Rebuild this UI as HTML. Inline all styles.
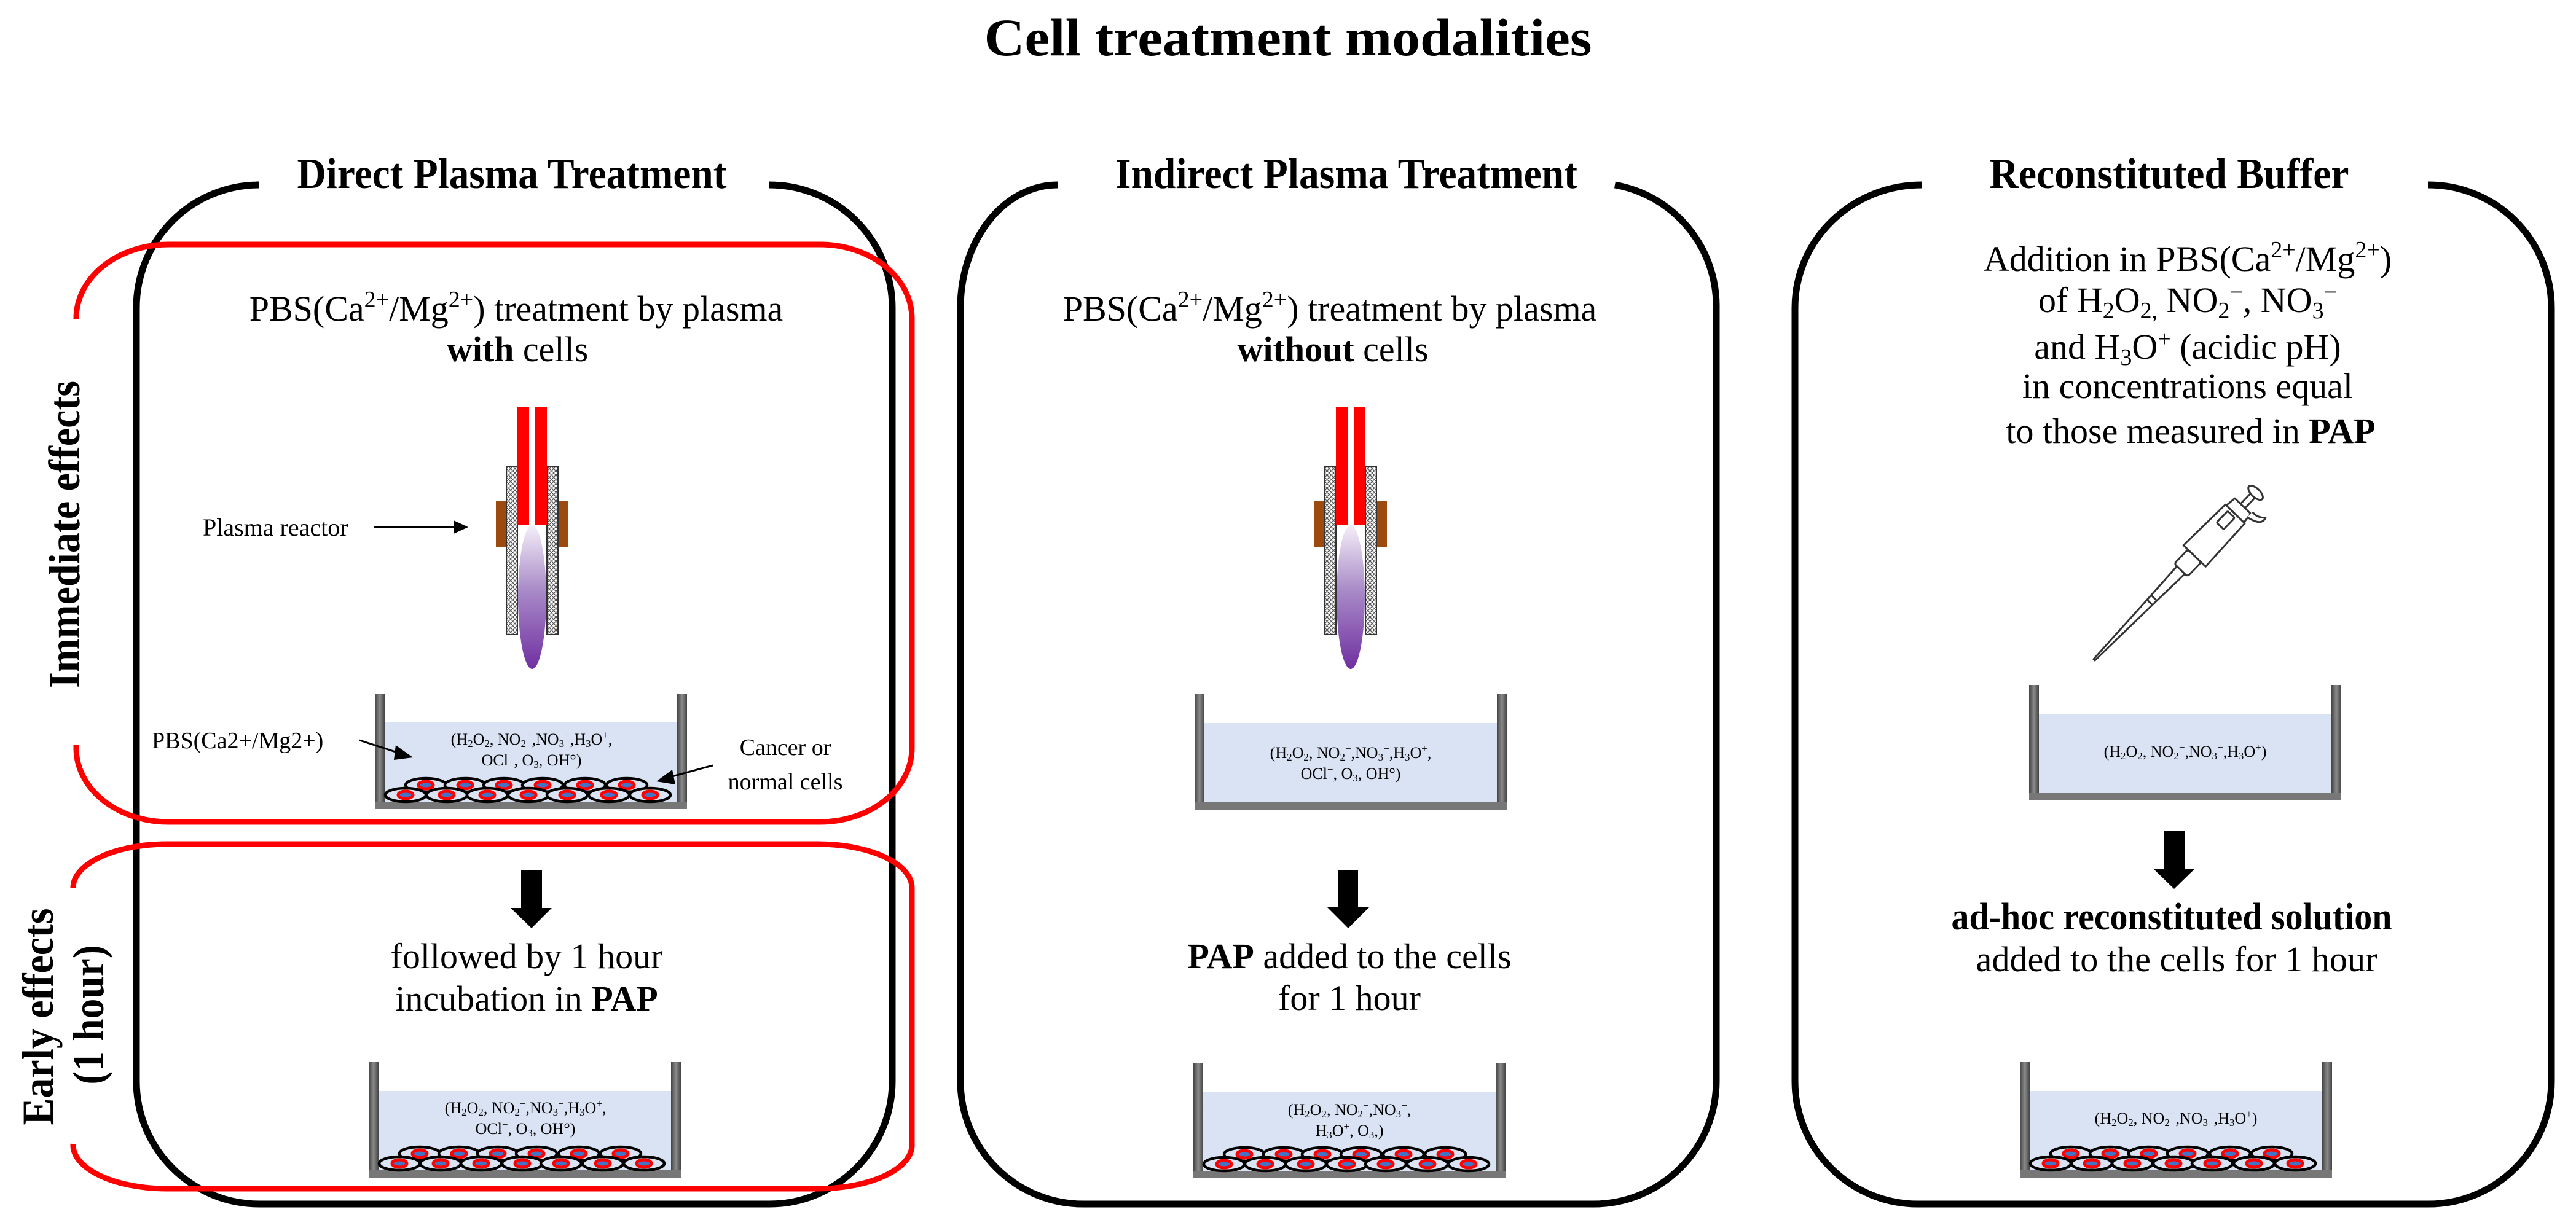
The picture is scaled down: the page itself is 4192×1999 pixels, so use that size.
<!DOCTYPE html>
<html><head><meta charset="utf-8">
<style>
html,body{margin:0;padding:0;background:#fff;}
svg{display:block;font-family:"Liberation Serif","Times New Roman",serif;}
text{font-family:"Liberation Serif","Times New Roman",serif;fill:#000;}
</style></head>
<body>
<svg width="4192" height="1999" viewBox="0 0 4192 1999" xmlns="http://www.w3.org/2000/svg" font-family="Liberation Serif, serif">
<defs>
  <pattern id="hatch" width="7" height="7" patternUnits="userSpaceOnUse">
    <rect width="7" height="7" fill="#fff"/>
    <path d="M0,0L7,7M7,0L0,7" stroke="#555" stroke-width="1.2"/>
  </pattern>
  <linearGradient id="plasma" x1="0" y1="0" x2="0" y2="1">
    <stop offset="0" stop-color="#f4eef8"/>
    <stop offset="0.45" stop-color="#a98bc8"/>
    <stop offset="1" stop-color="#7030a0"/>
  </linearGradient>
  <linearGradient id="wall" x1="0" y1="0" x2="1" y2="0">
    <stop offset="0" stop-color="#444"/>
    <stop offset="0.5" stop-color="#8a8a8a"/>
    <stop offset="1" stop-color="#444"/>
  </linearGradient>
  <g id="well">
    <rect x="16" y="47" width="476" height="130" fill="#dae3f3"/>
    <rect x="0" y="0" width="16" height="188" fill="url(#wall)"/>
    <rect x="492" y="0" width="16" height="188" fill="url(#wall)"/>
    <rect x="0" y="176" width="508" height="12" fill="#777"/>
  </g>
  <g id="cell">
    <ellipse cx="0" cy="0" rx="33" ry="11" fill="#dae3f3" stroke="#000" stroke-width="4.5"/>
    <ellipse cx="0" cy="0" rx="12" ry="6" fill="#4472c4" stroke="#f00" stroke-width="5"/>
  </g>
  <g id="cells">
    <use href="#cell" x="83" y="149"/><use href="#cell" x="147" y="149"/><use href="#cell" x="210" y="149"/>
    <use href="#cell" x="273" y="149"/><use href="#cell" x="342" y="149"/><use href="#cell" x="410" y="149"/>
    <use href="#cell" x="50" y="165"/><use href="#cell" x="117" y="165"/><use href="#cell" x="183" y="165"/>
    <use href="#cell" x="250" y="165"/><use href="#cell" x="313" y="165"/><use href="#cell" x="381" y="165"/>
    <use href="#cell" x="448" y="165"/>
  </g>
  <g id="reactor">
    <rect x="-59" y="816" width="17" height="74" fill="#9c4a0e"/>
    <rect x="42" y="816" width="17" height="74" fill="#9c4a0e"/>
    <rect x="-42" y="760" width="18" height="273" fill="url(#hatch)" stroke="#333" stroke-width="2"/>
    <rect x="24" y="760" width="18" height="273" fill="url(#hatch)" stroke="#333" stroke-width="2"/>
    <rect x="-24" y="662" width="19" height="193" fill="#f00"/>
    <rect x="5" y="662" width="19" height="193" fill="#f00"/>
    <ellipse cx="0" cy="972" rx="23" ry="117" fill="url(#plasma)"/>
  </g>
</defs>

<text x="2096" y="90" font-size="86" font-weight="bold" text-anchor="middle" textLength="989" lengthAdjust="spacingAndGlyphs">Cell treatment modalities</text>

<g fill="none" stroke="#000" stroke-width="11">
  <path d="M416,301 H422 A200,200 0 0 0 222,501 V1760 A200,200 0 0 0 422,1960 H1252 A200,200 0 0 0 1452,1760 V501 A200,200 0 0 0 1252,301"/>
  <path d="M1721,301 A158,200 0 0 0 1563,501 V1760 A200,200 0 0 0 1763,1960 H2593 A200,200 0 0 0 2793,1760 V501 A200,200 0 0 0 2628,301"/>
  <path d="M3127,301 A206,200 0 0 0 2921,501 V1760 A200,200 0 0 0 3121,1960 H3952 A200,200 0 0 0 4152,1760 V501 A200,200 0 0 0 3951,301"/>
</g>

<g fill="none" stroke="#f00" stroke-width="9">
  <path d="M124,519 V518 A150,120 0 0 1 274,398 H1334 A150,120 0 0 1 1484,518 V1218 A150,120 0 0 1 1334,1338 H274 A150,120 0 0 1 124,1218 V1212"/>
  <path d="M119,1445 A153,71 0 0 1 272,1374 H1331 A153,71 0 0 1 1484,1445 V1862 A153,71 0 0 1 1331,1935 H272 A153,71 0 0 1 119,1862"/>
</g>

<text transform="translate(129,870) rotate(-90)" font-size="72" font-weight="bold" text-anchor="middle" textLength="500" lengthAdjust="spacingAndGlyphs">Immediate effects</text>
<text transform="translate(86,1655) rotate(-90)" font-size="72" font-weight="bold" text-anchor="middle" textLength="353" lengthAdjust="spacingAndGlyphs">Early effects</text>
<text transform="translate(168,1652) rotate(-90)" font-size="72" font-weight="bold" text-anchor="middle" textLength="227" lengthAdjust="spacingAndGlyphs">(1 hour)</text>

<text x="833" y="306" font-size="70" font-weight="bold" text-anchor="middle" textLength="699" lengthAdjust="spacingAndGlyphs">Direct Plasma Treatment</text>
<text x="2191" y="306" font-size="70" font-weight="bold" text-anchor="middle" textLength="752" lengthAdjust="spacingAndGlyphs">Indirect Plasma Treatment</text>
<text x="3530" y="306" font-size="70" font-weight="bold" text-anchor="middle" textLength="585" lengthAdjust="spacingAndGlyphs">Reconstituted Buffer</text>

<text x="840" y="522" font-size="58" text-anchor="middle">PBS(Ca<tspan font-size="38" dy="-22">2+</tspan><tspan dy="22">/Mg</tspan><tspan font-size="38" dy="-22">2+</tspan><tspan dy="22">) treatment by plasma</tspan></text>
<text x="842" y="588" font-size="58" text-anchor="middle"><tspan font-weight="bold">with</tspan> cells</text>

<use href="#reactor" x="866" y="0"/>
<text x="330" y="872" font-size="40">Plasma reactor</text>
<line x1="608" y1="858" x2="740" y2="858" stroke="#000" stroke-width="3"/>
<polygon points="738,847 762,858 738,869" fill="#000"/>

<use href="#well" x="610" y="1129"/>
<use href="#cells" x="610" y="1129"/>
<text x="865" y="1212" font-size="26" text-anchor="middle">(H<tspan font-size="17" dy="4">2</tspan><tspan dy="-4">O</tspan><tspan font-size="17" dy="4">2</tspan><tspan dy="-4">, NO</tspan><tspan font-size="17" dy="4">2</tspan><tspan font-size="17" dy="-14">−</tspan><tspan dy="10">,NO</tspan><tspan font-size="17" dy="4">3</tspan><tspan font-size="17" dy="-14">−</tspan><tspan dy="10">,H</tspan><tspan font-size="17" dy="4">3</tspan><tspan dy="-4">O</tspan><tspan font-size="17" dy="-10">+</tspan><tspan dy="10">,</tspan></text>
<text x="865" y="1246" font-size="26" text-anchor="middle">OCl<tspan font-size="17" dy="-10">−</tspan><tspan dy="10">, O</tspan><tspan font-size="17" dy="4">3</tspan><tspan dy="-4">, OH°)</tspan></text>

<text x="247" y="1218" font-size="38">PBS(Ca2+/Mg2+)</text>
<line x1="585" y1="1205" x2="650" y2="1226" stroke="#000" stroke-width="3"/>
<polygon points="644,1213 672,1233 641,1237" fill="#000"/>
<text x="1278" y="1229" font-size="38" text-anchor="middle">Cancer or</text>
<text x="1278" y="1285" font-size="38" text-anchor="middle">normal cells</text>
<line x1="1160" y1="1246" x2="1090" y2="1265" stroke="#000" stroke-width="3"/>
<polygon points="1094,1253 1068,1272 1099,1277" fill="#000"/>

<polygon points="848,1417 882,1417 882,1478 898,1478 865,1511 831,1478 848,1478" fill="#000"/>
<text x="857" y="1576" font-size="58" text-anchor="middle">followed by 1 hour</text>
<text x="857" y="1645" font-size="58" text-anchor="middle">incubation in <tspan font-weight="bold">PAP</tspan></text>

<use href="#well" x="600" y="1729"/>
<use href="#cells" x="600" y="1729"/>
<text x="855" y="1812" font-size="26" text-anchor="middle">(H<tspan font-size="17" dy="4">2</tspan><tspan dy="-4">O</tspan><tspan font-size="17" dy="4">2</tspan><tspan dy="-4">, NO</tspan><tspan font-size="17" dy="4">2</tspan><tspan font-size="17" dy="-14">−</tspan><tspan dy="10">,NO</tspan><tspan font-size="17" dy="4">3</tspan><tspan font-size="17" dy="-14">−</tspan><tspan dy="10">,H</tspan><tspan font-size="17" dy="4">3</tspan><tspan dy="-4">O</tspan><tspan font-size="17" dy="-10">+</tspan><tspan dy="10">,</tspan></text>
<text x="855" y="1846" font-size="26" text-anchor="middle">OCl<tspan font-size="17" dy="-10">−</tspan><tspan dy="10">, O</tspan><tspan font-size="17" dy="4">3</tspan><tspan dy="-4">, OH°)</tspan></text>

<text x="2164" y="522" font-size="58" text-anchor="middle">PBS(Ca<tspan font-size="38" dy="-22">2+</tspan><tspan dy="22">/Mg</tspan><tspan font-size="38" dy="-22">2+</tspan><tspan dy="22">) treatment by plasma</tspan></text>
<text x="2169" y="588" font-size="58" text-anchor="middle"><tspan font-weight="bold">without</tspan> cells</text>

<use href="#reactor" x="2198" y="0"/>

<use href="#well" x="1944" y="1130"/>
<text x="2198" y="1234" font-size="26" text-anchor="middle">(H<tspan font-size="17" dy="4">2</tspan><tspan dy="-4">O</tspan><tspan font-size="17" dy="4">2</tspan><tspan dy="-4">, NO</tspan><tspan font-size="17" dy="4">2</tspan><tspan font-size="17" dy="-14">−</tspan><tspan dy="10">,NO</tspan><tspan font-size="17" dy="4">3</tspan><tspan font-size="17" dy="-14">−</tspan><tspan dy="10">,H</tspan><tspan font-size="17" dy="4">3</tspan><tspan dy="-4">O</tspan><tspan font-size="17" dy="-10">+</tspan><tspan dy="10">,</tspan></text>
<text x="2198" y="1268" font-size="26" text-anchor="middle">OCl<tspan font-size="17" dy="-10">−</tspan><tspan dy="10">, O</tspan><tspan font-size="17" dy="4">3</tspan><tspan dy="-4">, OH°)</tspan></text>

<polygon points="2177,1417 2210,1417 2210,1477 2228,1477 2194,1511 2160,1477 2177,1477" fill="#000"/>
<text x="2196" y="1576" font-size="58" text-anchor="middle"><tspan font-weight="bold">PAP</tspan> added to the cells</text>
<text x="2196" y="1644" font-size="58" text-anchor="middle">for 1 hour</text>

<use href="#well" x="1942" y="1730"/>
<use href="#cells" x="1942" y="1730"/>
<text x="2196" y="1815" font-size="26" text-anchor="middle">(H<tspan font-size="17" dy="4">2</tspan><tspan dy="-4">O</tspan><tspan font-size="17" dy="4">2</tspan><tspan dy="-4">, NO</tspan><tspan font-size="17" dy="4">2</tspan><tspan font-size="17" dy="-14">−</tspan><tspan dy="10">,NO</tspan><tspan font-size="17" dy="4">3</tspan><tspan font-size="17" dy="-14">−</tspan><tspan dy="10">,</tspan></text>
<text x="2196" y="1849" font-size="26" text-anchor="middle">H<tspan font-size="17" dy="4">3</tspan><tspan dy="-4">O</tspan><tspan font-size="17" dy="-10">+</tspan><tspan dy="10">,  O</tspan><tspan font-size="17" dy="4">3</tspan><tspan dy="-4">,)</tspan></text>

<text x="3560" y="441" font-size="58" text-anchor="middle">Addition in PBS(Ca<tspan font-size="38" dy="-22">2+</tspan><tspan dy="22">/Mg</tspan><tspan font-size="38" dy="-22">2+</tspan><tspan dy="22">)</tspan></text>
<text x="3560" y="508" font-size="58" text-anchor="middle">of H<tspan font-size="38" dy="10">2</tspan><tspan dy="-10">O</tspan><tspan font-size="38" dy="10">2,</tspan><tspan dy="-10"> NO</tspan><tspan font-size="38" dy="10">2</tspan><tspan font-size="38" dy="-30">−</tspan><tspan dy="20">, NO</tspan><tspan font-size="38" dy="10">3</tspan><tspan font-size="38" dy="-30">−</tspan></text>
<text x="3560" y="584" font-size="58" text-anchor="middle">and H<tspan font-size="38" dy="10">3</tspan><tspan dy="-10">O</tspan><tspan font-size="38" dy="-20">+</tspan><tspan dy="20"> (acidic pH)</tspan></text>
<text x="3560" y="648" font-size="58" text-anchor="middle">in concentrations equal</text>
<text x="3565" y="721" font-size="58" text-anchor="middle">to those measured in <tspan font-weight="bold">PAP</tspan></text>

<g transform="translate(3408,1074) rotate(44)" fill="#fff" stroke="#333" stroke-width="3" stroke-linejoin="round">
  <polygon points="-1.5,0 1.5,0 6,-130 -6,-130"/>
  <polygon points="-6,-130 6,-130 9,-205 -9,-205"/>
  <line x1="-7" y1="-140" x2="7" y2="-140"/>
  <rect x="-15" y="-235" width="30" height="32" rx="4"/>
  <path d="M-25,-235 L25,-235 L22,-330 Q0,-342 -22,-330 Z"/>
  <path d="M-20,-330 L20,-330 L18,-348 L-18,-348 Z"/>
  <path d="M18,-340 Q45,-345 40,-360 Q30,-350 18,-352"/>
  <rect x="-12" y="-325" width="16" height="26" rx="2"/>
  <rect x="-5" y="-372" width="10" height="24"/>
  <ellipse cx="0" cy="-378" rx="15" ry="7"/>
</g>

<use href="#well" x="3302" y="1115"/>
<text x="3556" y="1232" font-size="26" text-anchor="middle">(H<tspan font-size="17" dy="4">2</tspan><tspan dy="-4">O</tspan><tspan font-size="17" dy="4">2</tspan><tspan dy="-4">, NO</tspan><tspan font-size="17" dy="4">2</tspan><tspan font-size="17" dy="-14">−</tspan><tspan dy="10">,NO</tspan><tspan font-size="17" dy="4">3</tspan><tspan font-size="17" dy="-14">−</tspan><tspan dy="10">,H</tspan><tspan font-size="17" dy="4">3</tspan><tspan dy="-4">O</tspan><tspan font-size="17" dy="-10">+</tspan><tspan dy="10">)</tspan></text>

<polygon points="3522,1352 3555,1352 3555,1414 3572,1414 3538,1447 3504,1414 3522,1414" fill="#000"/>
<text x="3534" y="1513" font-size="62" font-weight="bold" text-anchor="middle" textLength="717" lengthAdjust="spacingAndGlyphs">ad-hoc reconstituted solution</text>
<text x="3542" y="1581" font-size="58" text-anchor="middle" textLength="653" lengthAdjust="spacingAndGlyphs">added to the cells for 1 hour</text>

<use href="#well" x="3287" y="1729"/>
<use href="#cells" x="3287" y="1729"/>
<text x="3541" y="1829" font-size="26" text-anchor="middle">(H<tspan font-size="17" dy="4">2</tspan><tspan dy="-4">O</tspan><tspan font-size="17" dy="4">2</tspan><tspan dy="-4">, NO</tspan><tspan font-size="17" dy="4">2</tspan><tspan font-size="17" dy="-14">−</tspan><tspan dy="10">,NO</tspan><tspan font-size="17" dy="4">3</tspan><tspan font-size="17" dy="-14">−</tspan><tspan dy="10">,H</tspan><tspan font-size="17" dy="4">3</tspan><tspan dy="-4">O</tspan><tspan font-size="17" dy="-10">+</tspan><tspan dy="10">)</tspan></text>

</svg>
</body></html>
